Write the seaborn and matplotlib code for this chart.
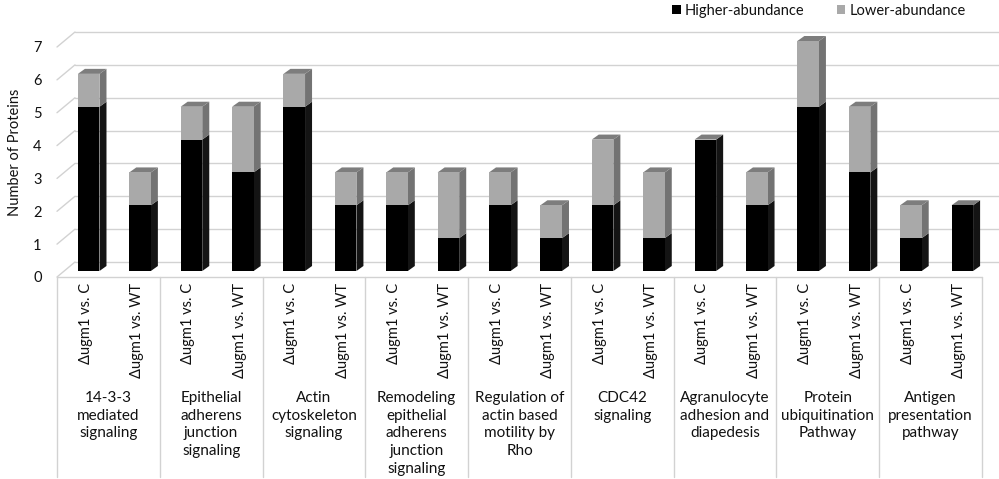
import matplotlib
matplotlib.use("Agg")
import matplotlib.pyplot as plt
import seaborn as sns
import pandas as pd
from matplotlib.patches import Polygon, Patch
from matplotlib.transforms import blended_transform_factory, offset_copy

# ---- data -------------------------------------------------------------
pathways = [
    "14-3-3\nmediated\nsignaling",
    "Epithelial\nadherens\njunction\nsignaling",
    "Actin\ncytoskeleton\nsignaling",
    "Remodeling\nepithelial\nadherens\njunction\nsignaling",
    "Regulation of\nactin based\nmotility by\nRho",
    "CDC42\nsignaling",
    "Agranulocyte\nadhesion and\ndiapedesis",
    "Protein\nubiquitination\nPathway",
    "Antigen\npresentation\npathway",
]
comparisons = ["Δugm1 vs. C", "Δugm1 vs. WT"]
higher_vs_c = [5, 4, 5, 2, 2, 2, 4, 5, 1]
lower_vs_c = [1, 1, 1, 1, 1, 2, 0, 2, 1]
higher_vs_wt = [2, 3, 2, 1, 1, 1, 2, 3, 2]
lower_vs_wt = [1, 2, 1, 2, 1, 2, 1, 2, 0]
series_names = ["Higher-abundance", "Lower-abundance"]
y_ticks = [0, 1, 2, 3, 4, 5, 6, 7]
y_label = "Number of Proteins"

# ---- style ------------------------------------------------------------
sns.set_theme(style="white")
plt.rcParams["font.family"] = ["Lato", "DejaVu Sans"]
TEXT = "#111111"
BLACK_FRONT, BLACK_SIDE = "#000000", "#141414"
GRAY_FRONT, GRAY_SIDE, TOP = "#a9a9a9", "#737373", "#7d7d7d"
GRID = "#d2d2d2"
FS = 10.5
FS_GROUP = 11

rows = []
for i, p in enumerate(pathways):
    rows.append(dict(pathway=p, comparison=comparisons[0],
                     higher=higher_vs_c[i], lower=lower_vs_c[i]))
    rows.append(dict(pathway=p, comparison=comparisons[1],
                     higher=higher_vs_wt[i], lower=lower_vs_wt[i]))
df = pd.DataFrame(rows)
df["total"] = df["higher"] + df["lower"]

W, H = 999, 479
fig = plt.figure(figsize=(W / 100, H / 100), dpi=100)
ax = fig.add_axes([57 / W, 202 / H, 925 / W, 230 / H])

common = dict(data=df, x="pathway", hue="comparison", order=pathways,
              hue_order=comparisons, width=1.0, gap=0.58, dodge=True,
              legend=False, linewidth=0, ax=ax, errorbar=None)
sns.barplot(y="total", palette=[GRAY_FRONT, GRAY_FRONT], **common)
n_total = len(ax.patches)
sns.barplot(y="higher", palette=[BLACK_FRONT, BLACK_FRONT], **common)
total_bars = list(ax.patches[:n_total])
higher_bars = list(ax.patches[n_total:])

ax.set_xlim(-0.5, len(pathways) - 0.5)
ax.set_ylim(0, max(y_ticks))
for s in ax.spines.values():
    s.set_visible(False)
ax.set_xticks([])
ax.set_yticks(y_ticks)
ax.set_yticklabels([str(t) for t in y_ticks], fontsize=FS, color=TEXT)
ax.tick_params(axis="y", length=0, pad=11)
ax.set_xlabel("")
ax.set_ylabel(y_label, fontsize=FS, color=TEXT)
ax.yaxis.set_label_coords(22 / W, 1 - 152 / H, transform=fig.transFigure)

# pixel -> data conversion for the pseudo-3D depth
fig.canvas.draw()
p0 = ax.transData.transform((0, 0))
p1 = ax.transData.transform((1, 1))
px_x = p1[0] - p0[0]
px_y = p1[1] - p0[1]


def dx(px):
    return px / px_x


def dy(px):
    return px / px_y


x0, x1 = ax.get_xlim()

# back wall gridlines with the short left-wall diagonals
wall_dx, wall_dy = dx(18), dy(15)
for v in y_ticks:
    ax.plot([x0, x0 + wall_dx], [v, v + wall_dy], color=GRID, lw=1,
            clip_on=False, zorder=0.5)
    ax.plot([x0 + wall_dx, x1 + wall_dx], [v + wall_dy, v + wall_dy],
            color=GRID, lw=1, clip_on=False, zorder=0.5)

# bars: move front faces into the floor, then add side and top faces
front_dx, front_dy = dx(6), dy(6)
depth_dx, depth_dy = dx(7), dy(5)


def key(r):
    return round(r.get_x() + r.get_width() / 2, 3)


higher_map = {key(r): r for r in higher_bars}
for rt in total_bars:
    rh = higher_map[key(rt)]
    total = rt.get_height()
    high = rh.get_height()
    for r in (rt, rh):
        r.set_x(r.get_x() + front_dx)
        r.set_y(r.get_y() + front_dy)
        r.set_clip_on(False)
        r.set_zorder(3)
    xl = rt.get_x()
    xr = xl + rt.get_width()
    yb = front_dy
    segs = [(yb, yb + high, BLACK_SIDE), (yb + high, yb + total, GRAY_SIDE)]
    for ya, yz, col in segs:
        if yz - ya <= 0:
            continue
        ax.add_patch(Polygon([(xr, ya), (xr + depth_dx, ya + depth_dy),
                              (xr + depth_dx, yz + depth_dy), (xr, yz)],
                             closed=True, facecolor=col, edgecolor="none",
                             clip_on=False, zorder=2.5))
    yt = yb + total
    ax.add_patch(Polygon([(xl, yt), (xl + depth_dx, yt + depth_dy),
                          (xr + depth_dx, yt + depth_dy), (xr, yt)],
                         closed=True, facecolor=TOP, edgecolor="none",
                         clip_on=False, zorder=2.5))

# category table below the floor
fig_y = blended_transform_factory(ax.transData, fig.transFigure)
ax.plot([x0, x1], [0, 0], color=GRID, lw=1, clip_on=False, zorder=1)
for b in range(len(pathways) + 1):
    xb = x0 + b
    ax.plot([xb, xb], [202 / H, 2 / H], transform=fig_y, color=GRID, lw=1,
            clip_on=False, zorder=1)

lab_tr = offset_copy(fig_y, fig=fig, x=3, y=0, units="dots")
for i, p in enumerate(pathways):
    for j, c in enumerate(comparisons):
        ax.text(i - 0.25 + 0.5 * j, 1 - 283 / H, c, transform=lab_tr,
                rotation=90, ha="center", va="top", fontsize=FS, color=TEXT)
    ax.text(i, 1 - 391 / H, p, transform=fig_y, ha="center", va="top",
            multialignment="center", fontsize=FS_GROUP, color=TEXT,
            linespacing=1.33)

handles = [Patch(facecolor=BLACK_FRONT, edgecolor="none"),
           Patch(facecolor=GRAY_FRONT, edgecolor="none")]
ax.legend(handles, series_names, loc="upper right",
          bbox_to_anchor=(966 / W, 1 - 4 / H), bbox_transform=fig.transFigure,
          ncol=2, frameon=False, fontsize=FS, handlelength=0.6,
          handleheight=0.6, handletextpad=0.3, columnspacing=2.2,
          borderaxespad=0, borderpad=0, labelcolor=TEXT)

fig.savefig("out.png", dpi=100)
